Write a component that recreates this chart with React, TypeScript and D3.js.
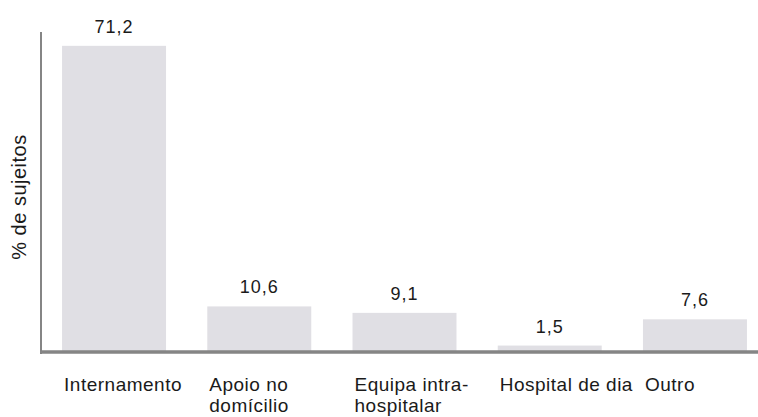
import React, { useRef, useEffect } from 'react';
import * as d3 from 'd3';

// categories (each label split into display lines) and values
const categories = ['Internamento', 'Apoio no domícilio', 'Equipa intra-hospitalar', 'Hospital de dia', 'Outro'];
const categoryLines = [['Internamento'], ['Apoio no', 'domícilio'], ['Equipa intra-', 'hospitalar'], ['Hospital de dia'], ['Outro']];
const values = [71.2, 10.6, 9.1, 1.5, 7.6];
const valueLabels = ['71,2', '10,6', '9,1', '1,5', '7,6'];
const yTitle = '% de sujeitos';

const width = 758, height = 417;

export default function App() {
    const ref = useRef<SVGSVGElement>(null);

    useEffect(() => {
        const svg = d3.select(ref.current);
        svg.selectAll('*').remove();

        const font = '"Liberation Sans", Arial, sans-serif';

        const x = d3.scaleBand<string>()
            .domain(categories)
            .range([41, 768])
            .paddingInner(0.284)
            .paddingOuter(0.145);

        const y = d3.scaleLinear()
            .domain([0, 80])
            .range([352, 8]);

        // bars
        svg.selectAll('rect.bar')
            .data(values)
            .enter()
            .append('rect')
            .attr('class', 'bar')
            .attr('x', (d, i) => x(categories[i]))
            .attr('y', d => y(d))
            .attr('width', x.bandwidth())
            .attr('height', d => y(0) - y(d))
            .attr('fill', '#e0dfe4');

        // value labels
        svg.selectAll('text.val')
            .data(values)
            .enter()
            .append('text')
            .attr('class', 'val')
            .attr('x', (d, i) => x(categories[i]) + x.bandwidth() / 2)
            .attr('y', d => y(d) - 13)
            .attr('text-anchor', 'middle')
            .style('font-family', font)
            .style('font-size', '18px')
            .style('letter-spacing', '1px')
            .style('fill', '#1a1a1a')
            .text((d, i) => valueLabels[i]);

        // axes lines
        svg.append('line')
            .attr('x1', 41).attr('x2', 41)
            .attr('y1', 32).attr('y2', 354)
            .attr('stroke', '#858585')
            .attr('stroke-width', 2);
        svg.append('line')
            .attr('x1', 40).attr('x2', width)
            .attr('y1', y(0)).attr('y2', y(0))
            .attr('stroke', '#858585')
            .attr('stroke-width', 3.5);

        // category labels
        const cat = svg.selectAll('text.cat')
            .data(categoryLines)
            .enter()
            .append('text')
            .attr('class', 'cat')
            .attr('x', (d, i) => x(categories[i]) + 2)
            .attr('y', 391)
            .style('font-family', font)
            .style('font-size', '19px')
            .style('letter-spacing', '0.5px')
            .style('fill', '#1a1a1a');
        cat.selectAll('tspan')
            .data(d => d)
            .enter()
            .append('tspan')
            .attr('x', function () { return (this.parentNode as SVGTextElement).getAttribute('x'); })
            .attr('dy', (d, i) => i === 0 ? 0 : 21)
            .text(d => d);

        // y title
        svg.append('text')
            .attr('transform', 'translate(26,' + 197 + ') rotate(-90)')
            .attr('text-anchor', 'middle')
            .style('font-family', font)
            .style('font-size', '20px')
            .style('letter-spacing', '0.5px')
            .style('fill', '#1a1a1a')
            .text(yTitle);
    }, []);

    return (
        <svg ref={ref} width={width} height={height}
            style={{ position: 'absolute', left: 0, top: 0, background: '#fff' }} />
    );
}
